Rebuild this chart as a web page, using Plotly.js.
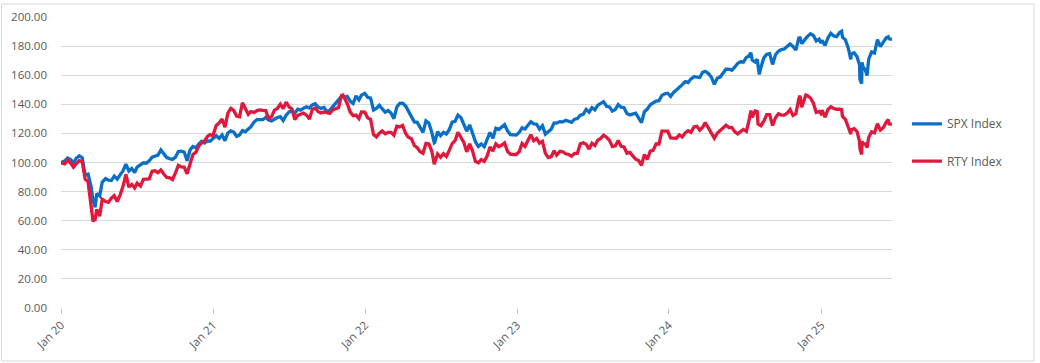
<!DOCTYPE html>
<html>
<head>
<meta charset="utf-8">
<script src="https://cdn.plot.ly/plotly-3.0.1.min.js"></script>
<style>
html,body{margin:0;padding:0;background:#fff;}
#chart{width:1040px;height:363px;}
</style>
</head>
<body>
<div id="chart"></div>
<script>
var dates = [
"2019-12-31",
"2020-01-03","2020-01-10","2020-01-17","2020-01-24","2020-01-31",
"2020-02-07","2020-02-14","2020-02-21","2020-02-28",
"2020-03-06","2020-03-13","2020-03-18","2020-03-20","2020-03-23","2020-03-27",
"2020-04-03","2020-04-09","2020-04-17","2020-04-24",
"2020-05-01","2020-05-08","2020-05-15","2020-05-22","2020-05-29",
"2020-06-05","2020-06-12","2020-06-19","2020-06-26",
"2020-07-02","2020-07-10","2020-07-17","2020-07-24","2020-07-31",
"2020-08-07","2020-08-14","2020-08-21","2020-08-28",
"2020-09-04","2020-09-11","2020-09-18","2020-09-25",
"2020-10-02","2020-10-09","2020-10-16","2020-10-23","2020-10-30",
"2020-11-06","2020-11-13","2020-11-20","2020-11-27",
"2020-12-04","2020-12-11","2020-12-18","2020-12-24","2020-12-31",
"2021-01-08","2021-01-15","2021-01-22","2021-01-29",
"2021-02-05","2021-02-12","2021-02-19","2021-02-26",
"2021-03-05","2021-03-12","2021-03-19","2021-03-26",
"2021-04-01","2021-04-09","2021-04-16","2021-04-23","2021-04-30",
"2021-05-07","2021-05-14","2021-05-21","2021-05-28",
"2021-06-04","2021-06-11","2021-06-18","2021-06-25",
"2021-07-02","2021-07-09","2021-07-16","2021-07-23","2021-07-30",
"2021-08-06","2021-08-13","2021-08-20","2021-08-27",
"2021-09-03","2021-09-10","2021-09-17","2021-09-24",
"2021-10-01","2021-10-08","2021-10-15","2021-10-22","2021-10-29",
"2021-11-05","2021-11-08","2021-11-12","2021-11-19","2021-11-26",
"2021-12-03","2021-12-10","2021-12-17","2021-12-23","2021-12-31",
"2022-01-07","2022-01-14","2022-01-21","2022-01-28",
"2022-02-04","2022-02-11","2022-02-18","2022-02-25",
"2022-03-04","2022-03-11","2022-03-18","2022-03-25",
"2022-04-01","2022-04-08","2022-04-14","2022-04-22","2022-04-29",
"2022-05-06","2022-05-13","2022-05-20","2022-05-27",
"2022-06-03","2022-06-10","2022-06-16","2022-06-17","2022-06-24",
"2022-07-01","2022-07-08","2022-07-15","2022-07-22","2022-07-29",
"2022-08-05","2022-08-12","2022-08-19","2022-08-26",
"2022-09-02","2022-09-09","2022-09-16","2022-09-23","2022-09-30",
"2022-10-07","2022-10-14","2022-10-21","2022-10-28",
"2022-11-04","2022-11-11","2022-11-18","2022-11-25",
"2022-12-02","2022-12-09","2022-12-16","2022-12-23","2022-12-30",
"2023-01-06","2023-01-13","2023-01-20","2023-01-27",
"2023-02-03","2023-02-10","2023-02-17","2023-02-24",
"2023-03-03","2023-03-10","2023-03-17","2023-03-24","2023-03-31",
"2023-04-06","2023-04-14","2023-04-21","2023-04-28",
"2023-05-05","2023-05-12","2023-05-19","2023-05-26",
"2023-06-02","2023-06-09","2023-06-16","2023-06-23","2023-06-30",
"2023-07-07","2023-07-14","2023-07-21","2023-07-28",
"2023-08-04","2023-08-11","2023-08-18","2023-08-25",
"2023-09-01","2023-09-08","2023-09-15","2023-09-22","2023-09-29",
"2023-10-06","2023-10-13","2023-10-20","2023-10-27",
"2023-11-03","2023-11-10","2023-11-17","2023-11-24",
"2023-12-01","2023-12-08","2023-12-15","2023-12-22","2023-12-29",
"2024-01-05","2024-01-12","2024-01-19","2024-01-26",
"2024-02-02","2024-02-09","2024-02-16","2024-02-23",
"2024-03-01","2024-03-08","2024-03-15","2024-03-22","2024-03-28",
"2024-04-05","2024-04-12","2024-04-19","2024-04-26",
"2024-05-03","2024-05-10","2024-05-17","2024-05-24","2024-05-31",
"2024-06-07","2024-06-14","2024-06-21","2024-06-28",
"2024-07-05","2024-07-11","2024-07-12","2024-07-16","2024-07-19","2024-07-26","2024-07-31",
"2024-08-02","2024-08-05","2024-08-09","2024-08-16","2024-08-23","2024-08-30",
"2024-09-06","2024-09-13","2024-09-20","2024-09-27",
"2024-10-04","2024-10-11","2024-10-18","2024-10-25",
"2024-11-01","2024-11-08","2024-11-11","2024-11-15","2024-11-22","2024-11-25","2024-11-29",
"2024-12-06","2024-12-13","2024-12-20","2024-12-27","2024-12-31",
"2025-01-03","2025-01-10","2025-01-17","2025-01-24","2025-01-31",
"2025-02-07","2025-02-14","2025-02-19","2025-02-21","2025-02-28",
"2025-03-07","2025-03-13","2025-03-14","2025-03-21","2025-03-28",
"2025-04-03","2025-04-04","2025-04-08","2025-04-09","2025-04-11","2025-04-17","2025-04-21","2025-04-25",
"2025-05-02","2025-05-09","2025-05-16","2025-05-23","2025-05-30",
"2025-06-06","2025-06-11","2025-06-13","2025-06-20"
];

var spxValues = [
100,
100.1,101.1,103.1,102.0,99.9,
103.0,104.6,103.3,91.4,
92.0,83.9,74.3,71.3,69.2,78.7,
77.0,86.4,89.0,87.8,
87.6,90.7,88.6,91.5,94.2,
98.9,94.1,95.9,93.1,
96.9,98.6,99.8,99.5,101.2,
103.7,104.4,105.1,108.6,
106.1,103.4,102.7,102.1,
103.6,107.6,107.8,107.2,101.2,
108.6,111.0,110.1,112.6,
114.5,113.4,114.8,114.6,116.3,
118.4,116.6,118.9,115.0,
120.3,121.8,120.9,118.0,
118.9,122.0,121.1,123.0,
124.4,127.8,129.5,129.4,129.4,
131.0,129.2,128.6,130.1,
130.9,131.5,128.9,132.5,
134.7,135.3,133.9,136.6,136.0,
137.3,138.3,137.5,139.6,
140.4,138.0,137.2,137.9,
134.9,135.9,138.4,140.7,142.5,
145.4,145.5,144.9,145.4,142.2,
140.5,145.8,143.0,146.3,147.5,
144.8,144.3,136.1,137.2,
139.3,136.8,134.6,135.7,
134.0,130.1,138.1,140.6,
140.7,138.9,136.0,132.2,127.9,
127.6,124.6,120.7,128.7,
127.2,120.7,113.5,113.7,121.1,
118.4,120.7,119.6,122.6,127.8,
128.3,132.5,130.9,125.6,
121.5,125.9,119.9,114.3,111.0,
112.7,110.9,116.1,120.7,
116.7,123.6,122.7,124.6,
126.0,121.8,119.2,119.0,118.9,
120.6,123.8,123.0,126.0,
128.0,126.6,126.3,122.9,
125.2,119.5,121.2,122.9,127.2,
127.1,128.1,127.9,129.0,
128.0,127.6,129.8,130.2,
132.5,133.1,136.5,134.6,137.7,
136.2,139.4,140.4,141.8,
138.6,138.2,135.3,136.4,
139.8,138.0,137.7,133.7,132.7,
133.3,133.9,130.7,127.4,
134.9,136.7,139.7,141.1,
142.2,142.5,146.1,147.2,147.6,
145.4,148.1,149.8,151.4,
153.5,155.6,154.9,157.5,
159.0,158.6,158.4,162.0,162.6,
161.1,158.6,153.7,157.9,
158.7,161.7,164.1,164.2,163.4,
165.5,168.1,169.2,169.0,
172.3,172.9,173.8,175.4,170.4,169.0,170.9,
165.5,160.5,165.4,171.9,174.4,174.8,
167.4,174.1,176.5,177.6,
178.0,180.0,181.5,179.8,
177.3,185.6,185.7,181.7,184.8,185.3,186.7,
188.5,187.3,183.6,184.8,182.1,
183.9,180.4,185.6,188.8,187.0,
186.5,189.3,190.2,186.1,184.3,
178.6,170.9,174.5,175.4,172.7,
167.0,157.1,154.2,168.9,166.0,163.5,159.7,171.0,
176.0,175.2,184.4,179.6,183.0,
185.7,186.4,185.0,184.7
];

var rtyValues = [
100,
99.5,99.1,101.8,99.6,96.7,
99.3,101.3,100.6,88.5,
86.8,72.5,59.4,60.8,60.8,67.8,
63.1,74.7,73.2,72.6,
75.5,77.2,73.2,77.6,83.6,
91.9,83.1,85.0,82.5,
85.8,83.8,88.5,88.5,88.7,
94.0,94.3,93.0,94.9,
92.1,89.7,89.5,88.3,
92.8,98.1,97.0,96.9,92.2,
98.6,105.5,107.0,111.2,
113.4,114.8,118.0,119.2,118.4,
125.4,127.2,129.9,124.3,
133.9,137.2,135.8,131.9,
131.4,141.0,137.0,133.1,
135.0,134.4,135.7,136.1,135.8,
135.7,130.2,131.5,136.0,
137.1,140.1,137.1,141.5,
138.2,136.7,129.6,132.4,133.4,
134.0,132.6,129.8,136.5,
137.4,134.9,134.0,134.7,
134.3,133.8,136.1,136.8,137.7,
146.1,146.4,144.4,140.4,134.6,
132.2,132.6,130.2,134.7,134.6,
130.7,129.6,119.2,117.6,
120.1,121.7,119.8,120.7,
120.7,118.7,125.0,124.5,
125.4,120.1,117.5,116.4,111.7,
110.2,107.4,106.3,113.1,
112.7,107.9,98.8,99.8,105.8,
103.6,106.1,104.2,108.3,113.0,
115.1,120.8,117.3,113.8,
107.3,112.8,107.8,100.6,99.8,
102.0,100.8,104.4,110.6,
107.8,112.8,110.8,112.0,
113.5,107.7,105.7,105.5,105.5,
107.4,113.1,111.1,114.5,
119.0,115.0,116.6,113.3,
114.5,106.3,103.4,104.0,108.0,
105.1,107.7,107.4,106.0,
105.5,104.3,106.3,106.3,
112.9,113.6,112.6,109.2,113.2,
111.7,115.4,116.6,118.8,
117.4,115.2,110.9,111.4,
115.1,111.1,110.7,106.4,107.0,
104.6,102.3,101.3,98.1,
105.5,102.2,107.8,108.3,
112.7,112.7,121.5,121.4,121.5,
116.9,116.9,116.7,119.0,
117.6,120.4,121.8,120.8,
124.4,124.9,122.2,124.2,127.4,
123.6,120.1,116.7,120.1,
122.0,123.5,125.6,124.0,124.1,
121.2,119.6,121.2,122.7,
121.4,127.4,129.6,135.7,131.0,135.5,135.1,
126.4,125.6,125.3,128.4,132.9,132.9,
125.4,130.8,133.5,132.6,
132.6,133.9,136.4,132.3,
133.5,143.8,145.9,138.0,144.2,146.4,145.9,
144.3,140.7,134.4,135.1,133.7,
135.9,131.2,136.4,138.3,137.1,
136.6,136.7,136.4,131.6,129.6,
124.2,119.5,122.5,123.3,121.3,
114.5,109.5,105.5,114.7,112.7,112.8,110.2,117.2,
121.1,120.4,126.6,122.2,123.9,
127.8,129.5,126.5,126.4
];

var seriesNames = ["SPX Index", "RTY Index"];
var seriesColors = ["#0A6FC7", "#E0183C"];
var yTickVals = [0,20,40,60,80,100,120,140,160,180,200];
var yTickText = ["0.00","20.00","40.00","60.00","80.00","100.00","120.00","140.00","160.00","180.00","200.00"];

var font = {family: "Open Sans, Noto Sans, sans-serif", size: 11, color: "#595959"};

var traces = [
  {x: dates, y: spxValues, name: seriesNames[0], type: "scatter", mode: "lines",
   line: {color: seriesColors[0], width: 3.3}, legend: "legend"},
  {x: dates, y: rtyValues, name: seriesNames[1], type: "scatter", mode: "lines",
   line: {color: seriesColors[1], width: 3.3}, legend: "legend2"}
];

var layout = {
  width: 1040, height: 363,
  margin: {l: 61, r: 148, t: 17, b: 55, pad: 0},
  paper_bgcolor: "#ffffff", plot_bgcolor: "#ffffff",
  font: font,
  showlegend: true,
  legend: {x: 1.018, y: 0.633, xanchor: "left", yanchor: "middle",
           font: {family: font.family, size: 12, color: "#595959"}, bgcolor: "rgba(0,0,0,0)"},
  legend2: {x: 1.018, y: 0.505, xanchor: "left", yanchor: "middle",
           font: {family: font.family, size: 12, color: "#595959"}, bgcolor: "rgba(0,0,0,0)"},
  xaxis: {
    type: "date",
    range: ["2020-01-01", "2025-06-20"],
    tick0: "2020-01-01", dtick: "M12", tickformat: "%b %y",
    tickangle: -45, ticks: "outside", ticklen: 5, tickcolor: "#bfbfbf",
    showgrid: false, zeroline: false, showline: false,
    tickfont: {family: font.family, size: 11.5, color: "#595959"}
  },
  yaxis: {
    range: [0, 200], tickvals: yTickVals, ticktext: yTickText,
    showgrid: true, gridcolor: "#d9d9d9", gridwidth: 1,
    zeroline: false, showline: false, ticks: "", ticklabelstandoff: 13,
    tickfont: {family: font.family, size: 11.5, color: "#595959"}
  },
  shapes: [{
    type: "rect", xref: "paper", yref: "paper",
    x0: -0.0716, x1: 1.1709, y0: -0.1821, y1: 1.0447,
    line: {color: "#d9d9d9", width: 1}, fillcolor: "rgba(0,0,0,0)", layer: "below"
  }]
};

Plotly.newPlot("chart", traces, layout, {displayModeBar: false, staticPlot: true});
</script>
</body>
</html>
